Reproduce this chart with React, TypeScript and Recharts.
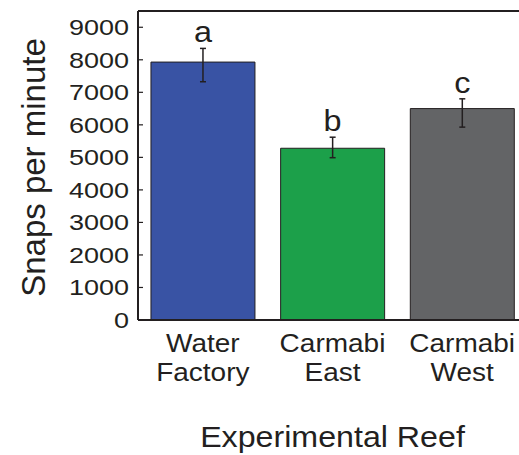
import React from "react";
import { BarChart, Bar, XAxis, YAxis, ErrorBar, Cell } from "recharts";

const sites = ["Water Factory", "Carmabi East", "Carmabi West"];
const means = [7930, 5280, 6500];
const errLow = [605, 290, 570];
const errHigh = [420, 340, 300];
const letters = ["a", "b", "c"];
const colors = ["#3953A4", "#1CA04A", "#636466"];
const yTicks = [0, 1000, 2000, 3000, 4000, 5000, 6000, 7000, 8000, 9000];

const data = sites.map((s, i) => ({
  site: s,
  value: means[i],
  err: [errLow[i], errHigh[i]],
  letter: letters[i],
}));

const FONT = '"Liberation Sans", Arial, Helvetica, sans-serif';
const INK = "#231f20";

const YTick = (props: any) => {
  const { x, y, payload } = props;
  return (
    <text
      transform={`translate(${x},${y + 8}) scale(1.2,1)`}
      textAnchor="end"
      fontFamily={FONT}
      fontSize={22.5}
      fill={INK}
    >
      {payload.value}
    </text>
  );
};

const XTick = (props: any) => {
  const { x, y, payload } = props;
  const parts = String(payload.value).split(" ");
  return (
    <g>
      {parts.map((p, i) => (
        <text
          key={i}
          transform={`translate(${x},${y + 32 + i * 29}) scale(1.12,1)`}
          textAnchor="middle"
          fontFamily={FONT}
          fontSize={25}
          fill={INK}
        >
          {p}
        </text>
      ))}
    </g>
  );
};

const LetterLabel = (props: any) => {
  const { x, y, width, height, value, index } = props;
  const i = typeof index === "number" ? index : means.indexOf(value);
  const ppu = height / value;
  const top = y - errHigh[i] * ppu;
  return (
    <text
      transform={`translate(${x + width / 2},${top - 6}) scale(1.08,1)`}
      textAnchor="middle"
      fontFamily={FONT}
      fontSize={30}
      fill={INK}
    >
      {letters[i]}
    </text>
  );
};

export default function App() {
  return (
    <div style={{ position: "absolute", left: 0, top: 0, width: 519, height: 455, overflow: "hidden", background: "#fff" }}>
      <BarChart
        width={540}
        height={455}
        data={data}
        margin={{ top: 0, right: 13, bottom: 0, left: 0 }}
        barCategoryGap="10%"
      >
        <XAxis
          xAxisId="top"
          orientation="top"
          dataKey="site"
          height={11}
          tick={false}
          tickSize={-5}
          axisLine={{ stroke: INK, strokeWidth: 2 }}
          tickLine={{ stroke: INK, strokeWidth: 1.2 }}
        />
        <XAxis
          dataKey="site"
          height={135}
          tick={<XTick />}
          tickLine={false}
          tickSize={0}
          tickMargin={0}
          axisLine={{ stroke: INK, strokeWidth: 2 }}
          label={{
            content: (p: any) => {
              const vb = p.viewBox;
              return (
                <text
                  transform={`translate(${vb.x + vb.width / 2},${vb.y + 127}) scale(1.11,1)`}
                  textAnchor="middle"
                  fontFamily={FONT}
                  fontSize={29}
                  fill={INK}
                >
                  Experimental Reef
                </text>
              );
            },
          }}
        />
        <YAxis
          width={138}
          domain={[0, 9500]}
          ticks={yTicks}
          interval={0}
          tick={<YTick />}
          tickSize={-5}
          tickMargin={14}
          axisLine={{ stroke: INK, strokeWidth: 2 }}
          tickLine={{ stroke: INK, strokeWidth: 1.2 }}
          label={{
            content: (p: any) => {
              const vb = p.viewBox;
              return (
                <text
                  transform={`translate(${vb.x + 45},${vb.y + vb.height / 2 + 2}) rotate(-90)`}
                  textAnchor="middle"
                  fontFamily={FONT}
                  fontSize={33}
                  fill={INK}
                >
                  Snaps per minute
                </text>
              );
            },
          }}
        />
        <Bar dataKey="value" stroke={INK} strokeWidth={1} isAnimationActive={false} label={<LetterLabel />}>
          {data.map((d, i) => (
            <Cell key={i} fill={colors[i]} />
          ))}
          <ErrorBar dataKey="err" width={3} stroke={INK} strokeWidth={1.5} direction="y" />
        </Bar>
      </BarChart>
    </div>
  );
}
